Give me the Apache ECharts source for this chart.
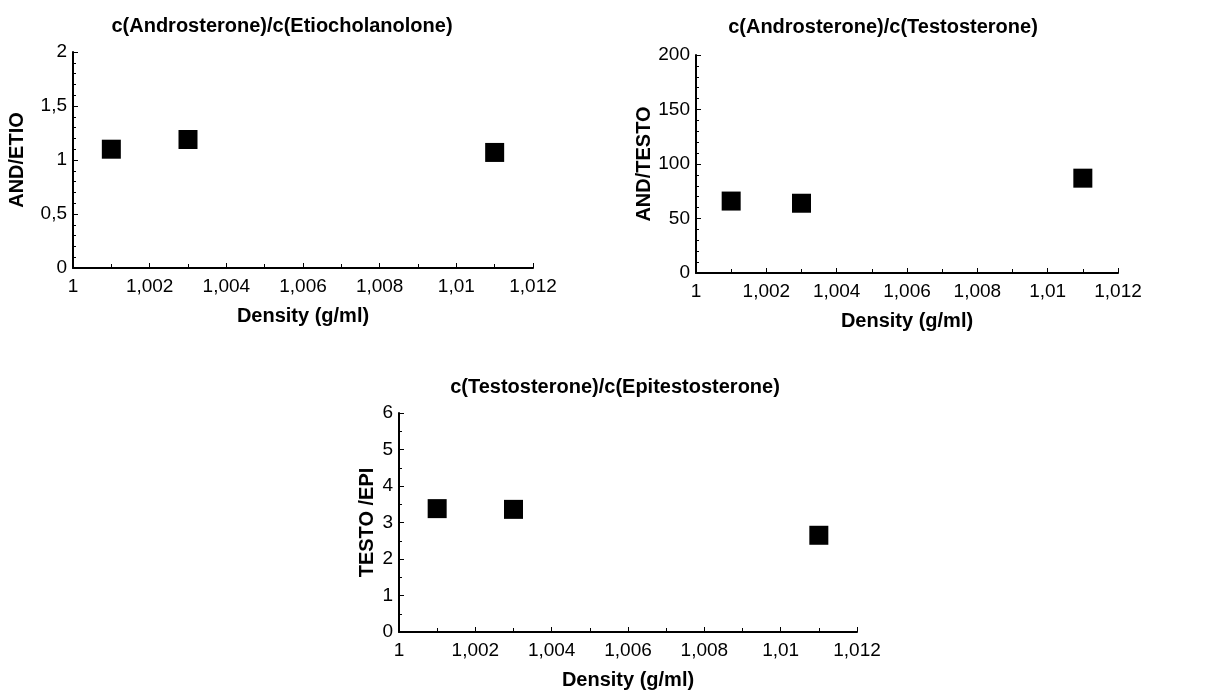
<!DOCTYPE html>
<html>
<head>
<meta charset="utf-8">
<script src="https://cdn.jsdelivr.net/npm/echarts@6/dist/echarts.min.js"></script>
<style>
  html, body { margin: 0; padding: 0; background: #fff; }
  #main { width: 1221px; height: 691px; }
</style>
</head>
<body>
<div id="main"></div>
<script>
// density of the fractions (g/ml)
var density = [1.001, 1.003, 1.011];
// ratios
var andEtio = [1.10, 1.19, 1.07];
var andTesto = [66, 64, 87];
var testoEpi = [3.38, 3.36, 2.65];

var titles = [
  'c(Androsterone)/c(Etiocholanolone)',
  'c(Androsterone)/c(Testosterone)',
  'c(Testosterone)/c(Epitestosterone)'
];
var yNames = ['AND/ETIO', 'AND/TESTO', 'TESTO /EPI'];
var xName = 'Density (g/ml)';

var font = 'Liberation Sans, Arial, sans-serif';

function comma(v) {
  return String(+(+v).toFixed(3)).replace('.', ',');
}

function pairs(ys) {
  return density.map(function (d, i) { return [d, ys[i]]; });
}

var axisLine = { lineStyle: { color: '#000', width: 2 } };
var axisTick = { inside: true, length: 5, lineStyle: { color: '#000', width: 1 } };

function xAxis(idx) {
  return {
    type: 'value', gridIndex: idx, min: 1, max: 1.012, interval: 0.002,
    name: xName, nameLocation: 'middle', nameGap: 38,
    nameTextStyle: { fontFamily: font, fontSize: 20, fontWeight: 'bold', color: '#000' },
    axisLine: axisLine, axisTick: axisTick,
    minorTick: { show: true, splitNumber: 2, length: 4, lineStyle: { color: '#000' } },
    splitLine: { show: false },
    axisLabel: { fontFamily: font, fontSize: 19, color: '#000', margin: 9, formatter: comma }
  };
}

function yAxis(idx, max, step, minor, gap) {
  return {
    type: 'value', gridIndex: idx, min: 0, max: max, interval: step,
    name: yNames[idx], nameLocation: 'middle', nameGap: gap,
    nameTextStyle: { fontFamily: font, fontSize: 20, fontWeight: 'bold', color: '#000' },
    axisLine: axisLine, axisTick: axisTick,
    minorTick: { show: true, splitNumber: minor, length: 3, lineStyle: { color: '#000' } },
    splitLine: { show: false },
    axisLabel: { fontFamily: font, fontSize: 19, color: '#000', margin: 6, formatter: comma }
  };
}

var chart = echarts.init(document.getElementById('main'), null, { renderer: 'canvas' });

chart.setOption({
  backgroundColor: '#ffffff',
  animation: false,
  title: [
    { text: titles[0], left: 282, top: 16 },
    { text: titles[1], left: 883, top: 17 },
    { text: titles[2], left: 615, top: 377 }
  ].map(function (t) {
    t.textAlign = 'center';
    t.padding = 0;
    t.textStyle = { fontFamily: font, fontSize: 20, fontWeight: 'bold', color: '#000' };
    return t;
  }),
  grid: [
    { left: 73, top: 52, width: 460, height: 216 },
    { left: 696, top: 55, width: 422, height: 218 },
    { left: 399, top: 413, width: 458, height: 220 }
  ],
  xAxis: [xAxis(0), xAxis(1), xAxis(2)],
  yAxis: [
    yAxis(0, 2, 0.5, 5, 46),
    yAxis(1, 200, 50, 5, 42),
    yAxis(2, 6, 1, 2, 22)
  ],
  series: [andEtio, andTesto, testoEpi].map(function (ys, i) {
    return {
      type: 'scatter', xAxisIndex: i, yAxisIndex: i,
      symbol: 'rect', symbolSize: 19,
      itemStyle: { color: '#000', opacity: 1 },
      data: pairs(ys)
    };
  })
});
</script>
</body>
</html>
